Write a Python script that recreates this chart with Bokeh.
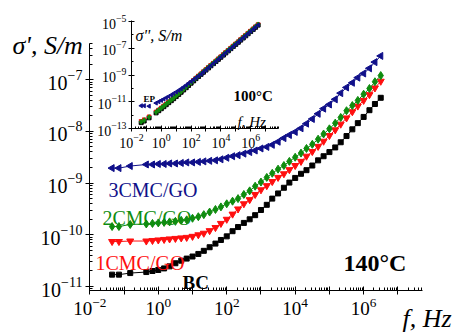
import numpy as np
from bokeh.plotting import figure
from bokeh.models import FixedTicker, Label, GridBox, Range1d
from bokeh.embed import file_html
from bokeh.resources import INLINE

# ---------------- data (log10 values) ----------------
log_f = [-1.35, -1.15, -0.82, -0.35, -0.17, 0.0, 0.17, 0.33, 0.5, 0.67, 0.83,
         1.0, 1.17, 1.33, 1.5, 1.67, 1.83, 2.0, 2.17, 2.33, 2.5, 2.67, 2.83,
         3.0, 3.17, 3.33, 3.5, 3.67, 3.83, 4.0, 4.17, 4.33, 4.5, 4.67, 4.83,
         5.0, 5.17, 5.33, 5.5, 5.67, 5.83, 6.0, 6.17, 6.33, 6.5]

# main panel: sigma' at 140 C (log10 S/m)
bc_140 = [-10.77, -10.77, -10.74, -10.72, -10.70, -10.68, -10.65, -10.61, -10.55, -10.50,
          -10.46, -10.42, -10.37, -10.31, -10.24, -10.17, -10.10, -10.03, -9.93, -9.85,
          -9.77, -9.70, -9.62, -9.52, -9.42, -9.30, -9.20, -9.09, -8.99, -8.90,
          -8.82, -8.75, -8.66, -8.56, -8.48, -8.40, -8.31, -8.21, -8.09, -7.96,
          -7.84, -7.72, -7.59, -7.47, -7.35]
cmc1_140 = [-10.13, -10.13, -10.12, -10.12, -10.11, -10.10, -10.09, -10.08, -10.07, -10.06,
            -10.05, -10.03, -10.00, -9.97, -9.92, -9.86, -9.78, -9.70, -9.60, -9.50,
            -9.40, -9.32, -9.22, -9.13, -9.05, -8.97, -8.89, -8.82, -8.74, -8.66,
            -8.58, -8.48, -8.39, -8.29, -8.19, -8.08, -7.97, -7.86, -7.74, -7.62,
            -7.51, -7.40, -7.29, -7.16, -7.03]
cmc2_140 = [-9.84, -9.84, -9.80, -9.79, -9.78, -9.77, -9.76, -9.75, -9.74, -9.72,
            -9.71, -9.68, -9.65, -9.61, -9.56, -9.51, -9.46, -9.40, -9.35, -9.30,
            -9.22, -9.15, -9.06, -8.98, -8.89, -8.81, -8.73, -8.66, -8.58, -8.50,
            -8.42, -8.33, -8.25, -8.15, -8.05, -7.95, -7.84, -7.73, -7.60, -7.50,
            -7.40, -7.28, -7.17, -7.04, -6.92]
cmc3_140 = [-8.71, -8.71, -8.67, -8.64, -8.64, -8.63, -8.63, -8.62, -8.62, -8.61,
            -8.60, -8.60, -8.59, -8.58, -8.57, -8.56, -8.54, -8.51, -8.48, -8.46,
            -8.43, -8.40, -8.37, -8.33, -8.30, -8.26, -8.20, -8.13, -8.07, -8.01,
            -7.94, -7.85, -7.76, -7.66, -7.56, -7.48, -7.38, -7.26, -7.15, -7.06,
            -6.96, -6.88, -6.78, -6.66, -6.54]

# inset: sigma'' at 100 C (log10 S/m)
bc_100 = [-12.56, -12.44, -12.20, -11.83, -11.67, -11.52, -11.37, -11.22, -11.07, -10.92,
          -10.77, -10.61, -10.45, -10.29, -10.12, -9.95, -9.78, -9.61, -9.44, -9.27,
          -9.11, -8.95, -8.79, -8.63, -8.47, -8.31, -8.15, -7.99, -7.83, -7.67,
          -7.51, -7.35, -7.19, -7.03, -6.87, -6.71, -6.55, -6.39, -6.23, -6.07,
          -5.91, -5.75, -5.59, -5.43, -5.27]
cmc1_100 = [-12.42, -12.30, -12.08, -11.72, -11.57, -11.42, -11.27, -11.13, -10.98, -10.83,
            -10.68, -10.52, -10.36, -10.20, -10.04, -9.87, -9.70, -9.53, -9.36, -9.19,
            -9.03, -8.87, -8.71, -8.55, -8.39, -8.23, -8.07, -7.91, -7.75, -7.59,
            -7.43, -7.27, -7.11, -6.95, -6.79, -6.63, -6.47, -6.31, -6.15, -5.99,
            -5.83, -5.67, -5.51, -5.35, -5.19]
cmc2_100 = [-12.50, -12.38, -12.15, -11.78, -11.62, -11.47, -11.32, -11.17, -11.02, -10.87,
            -10.72, -10.56, -10.40, -10.24, -10.07, -9.90, -9.73, -9.56, -9.39, -9.22,
            -9.06, -8.90, -8.74, -8.58, -8.42, -8.26, -8.10, -7.94, -7.78, -7.62,
            -7.46, -7.30, -7.14, -6.98, -6.82, -6.66, -6.50, -6.34, -6.18, -6.02,
            -5.86, -5.70, -5.54, -5.38, -5.22]
cmc3_100 = [-11.30, -11.30, -11.33, -11.10, -11.00, -10.90, -10.80, -10.70, -10.60, -10.49,
            -10.38, -10.27, -10.15, -10.03, -9.90, -9.76, -9.62, -9.48, -9.35, -9.21,
            -9.08, -8.94, -8.78, -8.62, -8.46, -8.30, -8.14, -7.98, -7.82, -7.66,
            -7.50, -7.34, -7.18, -7.02, -6.86, -6.70, -6.54, -6.38, -6.22, -6.06,
            -5.90, -5.74, -5.58, -5.42, -5.26]

series_names = ["BC", "1CMC/GO", "2CMC/GO", "3CMC/GO"]
x_tick_exps = list(range(-2, 8))
x_label_exps = [-2, 0, 2, 4, 6]
y_tick_exps = list(range(-11, -6))
inset_y_label_exps = [-13, -11, -9, -7, -5]

# ---------------- styles ----------------
SERIF = "Liberation Serif"
NAVY = "#10108a"
GREEN = "#0f8c0f"
RED = "#ff0f0f"
BLACK = "#000000"
W, H = 462, 333

f = 10.0 ** np.array(log_f)


def pw(v):
    return 10.0 ** np.array(v)


def style_axes(fig, xmaj, xmin, ymaj, ymin, xover, fs_x, fs_y, tin, tout, mtin, standoff):
    fig.xaxis.ticker = FixedTicker(ticks=xmaj, minor_ticks=xmin)
    fig.yaxis.ticker = FixedTicker(ticks=ymaj, minor_ticks=ymin)
    fig.xaxis.major_label_overrides = xover
    fig.xaxis.major_label_text_font_size = fs_x
    fig.yaxis.major_label_text_font_size = fs_y
    for ax in (fig.xaxis, fig.yaxis):
        ax.major_label_text_font = SERIF
        ax.major_label_text_color = "black"
        ax.axis_line_color = "black"
        ax.axis_line_width = 1
        ax.major_tick_line_color = "black"
        ax.minor_tick_line_color = "black"
        ax.major_tick_in = tin
        ax.major_tick_out = tout
        ax.minor_tick_in = mtin
        ax.minor_tick_out = 0
        ax.major_label_standoff = standoff
    fig.grid.visible = False
    fig.outline_line_color = None


x_major = [10.0 ** k for k in x_tick_exps]
x_minor = [m * 10.0 ** k for k in range(-3, 8) for m in range(2, 10)]
x_over = {10.0 ** k: "" for k in x_tick_exps if k not in x_label_exps}

# ---------------- main figure ----------------
p = figure(width=W, height=H, x_axis_type="log", y_axis_type="log",
           x_range=(10 ** -2.01, 10 ** 7.72), y_range=(10 ** -11.077, 10 ** -6.30),
           output_backend="svg", toolbar_location=None,
           min_border_left=89, min_border_right=40, min_border_top=43, min_border_bottom=43)
p.background_fill_color = "white"
p.border_fill_color = "white"

y_major = [10.0 ** k for k in y_tick_exps]
y_minor = [m * 10.0 ** k for k in range(-12, -6) for m in range(2, 10)]
style_axes(p, x_major, x_minor, y_major, y_minor, x_over, "19px", "20px", 4, 4, 3, 3)

main_specs = [
    (bc_140, BLACK, "square", 5, 0.0),
    (cmc1_140, RED, "inverted_triangle", 7, 0.0),
    (cmc2_140, GREEN, "diamond", 8, 0.0),
    (cmc3_140, NAVY, "triangle", 7, np.pi / 2),
]
for vals, col, mk, sz, ang in main_specs:
    y = pw(vals)
    p.line(f, y, line_color=col, line_width=1)
    p.scatter(f, y, marker=mk, size=sz, angle=ang, fill_color=col, line_color=col)

# ---------------- inset figure ----------------
inset = figure(width=190, height=144, x_axis_type="log", y_axis_type="log",
               x_range=(10 ** -2.0, 10 ** 7.867), y_range=(10 ** -13.0, 10 ** -4.925),
               output_backend="svg", toolbar_location=None,
               min_border_left=36, min_border_right=6, min_border_top=10, min_border_bottom=26)
inset.background_fill_color = None
inset.border_fill_color = None

iy_major = [10.0 ** k for k in inset_y_label_exps]
iy_minor = [10.0 ** k for k in range(-14, -3) if k not in inset_y_label_exps]
style_axes(inset, x_major, x_minor, iy_major, iy_minor, x_over, "14px", "14px", 3, 3, 2, 2)

inset_specs = [
    (bc_100, BLACK, "square", 4, 0.0),
    (cmc1_100, RED, "inverted_triangle", 4, 0.0),
    (cmc2_100, GREEN, "diamond", 5, 0.0),
    (cmc3_100, NAVY, "triangle", 4, np.pi / 2),
]
for vals, col, mk, sz, ang in inset_specs:
    inset.scatter(f, pw(vals), marker=mk, size=sz, angle=ang, fill_color=col, line_color=col)

# ---------------- text overlay (pixel coordinates of the page) ----------------
ov = figure(width=W, height=H, x_range=Range1d(0, W), y_range=Range1d(H, 0),
            x_axis_type=None, y_axis_type=None, output_backend="svg", toolbar_location=None,
            min_border=0)
ov.background_fill_color = None
ov.border_fill_color = None
ov.outline_line_color = None
ov.grid.visible = False

texts = [
    ("3CMC/GO", 108, 189, NAVY, "20px", "normal"),
    ("2CMC/GO", 102, 217, GREEN, "20px", "normal"),
    ("1CMC/GO", 95, 262, RED, "20px", "normal"),
    ("BC", 182, 282, BLACK, "19px", "bold"),
    ("140°C", 343, 262, BLACK, "24px", "bold"),
    ("σ', S/m", 12, 45, BLACK, "26px", "italic"),
    ("f, Hz", 402, 318, BLACK, "26px", "italic"),
    ("σ'', S/m", 135, 35, BLACK, "16px", "italic"),
    ("100°C", 233, 95, BLACK, "15px", "bold"),
    ("f, Hz", 237, 121, BLACK, "15px", "italic"),
    ("EP", 143, 98, BLACK, "9px", "bold"),
]
for t, x, y, col, fs, st in texts:
    ov.add_layout(Label(x=x, y=y, text=t, text_color=col, text_font=SERIF,
                        text_font_size=fs, text_font_style=st,
                        text_baseline="alphabetic", text_align="left"))

# zero-size outer tracks keep the overlay from sharing grid edges with the main plot
layout = GridBox(children=[(p, 1, 1, 3, 3), (inset, 2, 2), (ov, 0, 0, 5, 5)],
                 rows=["0px", "10px", "144px", "179px", "0px"],
                 cols=["0px", "94px", "190px", "178px", "0px"],
                 spacing=0)
open("out.html", "w").write(file_html(layout, INLINE))
